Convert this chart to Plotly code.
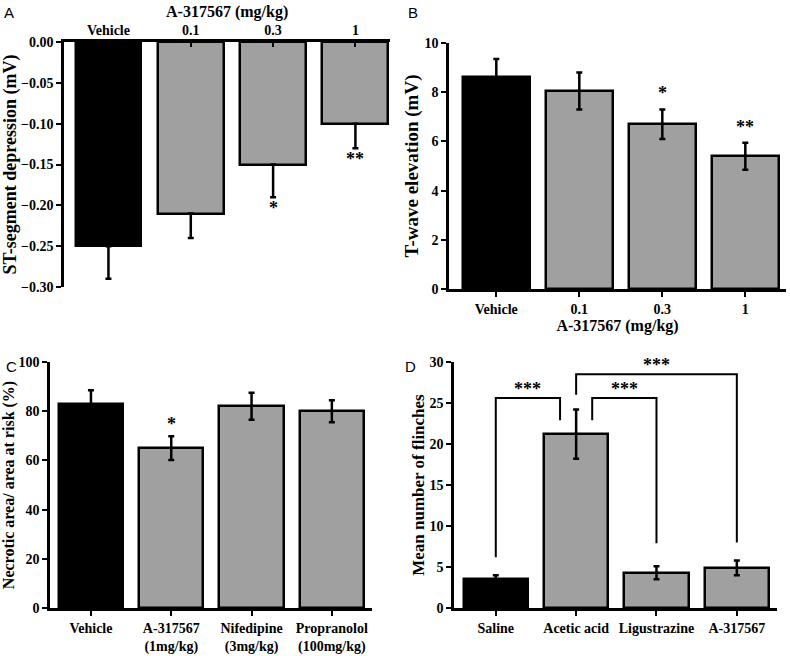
import plotly.graph_objects as go

# ---------------- data ----------------
a_cats = ["Vehicle", "0.1", "0.3", "1"]
a_vals = [-0.25, -0.21, -0.15, -0.10]
a_err = [0.04, 0.03, 0.04, 0.03]
a_stars = ["", "", "*", "**"]
a_star_y = [None, None, -0.203, -0.143]

b_cats = ["Vehicle", "0.1", "0.3", "1"]
b_vals = [8.6, 8.05, 6.7, 5.4]
b_err = [0.75, 0.75, 0.6, 0.55]
b_stars = ["", "", "*", "**"]
b_star_y = [None, None, 7.95, 6.6]

c_cats = ["Vehicle", "A-317567<br>(1mg/kg)", "Nifedipine<br>(3mg/kg)", "Propranolol<br>(100mg/kg)"]
c_vals = [83, 65, 82, 80]
c_err = [5.5, 4.8, 5.5, 4.5]
c_stars = ["", "*", "", ""]
c_star_y = [None, 75.0, None, None]

d_cats = ["Saline", "Acetic acid", "Ligustrazine", "A-317567"]
d_vals = [3.5, 21.2, 4.3, 4.9]
d_err = [0.5, 3.0, 0.8, 0.9]
# brackets: left x, right x, left-leg bottom, top, right-leg bottom, star label, star y
d_br_x0 = [0.0, 1.2, 1.0]
d_br_x1 = [0.8, 2.0, 3.0]
d_br_yl = [6.2, 22.9, 26.0]
d_br_top = [25.6, 25.6, 28.5]
d_br_yr = [22.9, 7.9, 8.0]
d_br_lbl = ["***", "***", "***"]
d_br_star_y = [26.7, 26.7, 29.6]

colors = ["black", "#a0a0a0", "#a0a0a0", "#a0a0a0"]
SERIF = "Liberation Serif"
W, H = 790, 656


def dom_x(p0, p1):
    return [p0 / W, p1 / W]


def dom_y(p_top, p_bot):
    return [1 - p_bot / H, 1 - p_top / H]


fig = go.Figure()


def add_bars(cats, vals, err, xa, ya, one_sided=False, width=0.8):
    if one_sided:
        ey = dict(type="data", symmetric=False, array=[0] * len(err), arrayminus=err,
                  color="black", thickness=2.5, width=3)
    else:
        ey = dict(type="data", array=err, color="black", thickness=2.5, width=3)
    fig.add_trace(go.Bar(x=cats, y=vals, xaxis=xa, yaxis=ya, width=width,
                         marker=dict(color=colors, line=dict(color="black", width=2.5)),
                         error_y=ey, showlegend=False, hoverinfo="skip"))


add_bars(a_cats, a_vals, a_err, "x", "y", one_sided=True)
add_bars(b_cats, b_vals, b_err, "x2", "y2")
add_bars(c_cats, c_vals, c_err, "x3", "y3")
add_bars(d_cats, d_vals, d_err, "x4", "y4")

tickfont = dict(family=SERIF, size=14, color="black", weight="bold")
xtitlefont = dict(family=SERIF, size=16, color="black", weight="bold")


def ytf(size):
    return dict(family=SERIF, size=size, color="black", weight="bold")


def xax(domain, rng, anchor, side="bottom", ticks="outside", title=None, standoff=None,
        labelstandoff=0):
    d = dict(domain=domain, range=rng, anchor=anchor, side=side, showline=True,
             linecolor="black", linewidth=2.5, ticks=ticks, ticklen=5, tickwidth=2,
             tickcolor="black", tickfont=tickfont, showgrid=False, zeroline=False,
             fixedrange=True, automargin=False, ticklabelstandoff=labelstandoff)
    if title:
        d["title"] = dict(text=title, font=xtitlefont, standoff=standoff)
    return d


def yax(domain, rng, anchor, dtick, tickformat, title, size, standoff):
    return dict(domain=domain, range=rng, anchor=anchor, showline=True, linecolor="black",
                linewidth=2.5, ticks="outside", ticklen=5, tickwidth=2, tickcolor="black",
                tickfont=tickfont, showgrid=False, zeroline=False, dtick=dtick,
                tickformat=tickformat, tick0=0, automargin=False, fixedrange=True,
                title=dict(text=title, font=ytf(size), standoff=standoff))


fig.update_layout(
    width=W, height=H, margin=dict(l=0, r=0, t=0, b=0),
    paper_bgcolor="white", plot_bgcolor="white", bargap=0,
    xaxis=xax(dom_x(64, 390), [-0.54, 3.42], "y", side="top", ticks="inside",
              labelstandoff=-1),
    yaxis=yax(dom_y(42, 287), [-0.30, 0], "x", 0.05, ".2f",
              "ST-segment depression (mV)", 18, 9),
    xaxis2=xax(dom_x(449, 786), [-0.57, 3.49], "y2", title="A-317567 (mg/kg)", standoff=4),
    yaxis2=yax(dom_y(43, 289), [0, 10], "x2", 2, "d", "T-wave elevation (mV)", 19, 1),
    xaxis3=xax(dom_x(50, 372), [-0.51, 3.5], "y3"),
    yaxis3=yax(dom_y(362, 608), [0, 100], "x3", 20, "d",
               "Necrotic area/ area at risk (%)", 16, 8),
    xaxis4=xax(dom_x(454, 777), [-0.52, 3.5], "y4"),
    yaxis4=yax(dom_y(362, 608), [0, 30], "x4", 5, "d", "Mean number of flinches", 17, 1),
)

star_font = dict(family=SERIF, size=18, color="black", weight="bold")
ann = []
# top x-axis title of panel A
ann.append(dict(x=(64 + 390) / 2 / W, y=1 - 12 / H, xref="paper", yref="paper",
                text="A-317567 (mg/kg)", showarrow=False, font=xtitlefont,
                xanchor="center", yanchor="middle"))
for cats, stars, sy, xr, yr in [(a_cats, a_stars, a_star_y, "x", "y"),
                                (b_cats, b_stars, b_star_y, "x2", "y2"),
                                (c_cats, c_stars, c_star_y, "x3", "y3")]:
    for i, s in enumerate(stars):
        if s:
            ann.append(dict(x=i, y=sy[i], xref=xr, yref=yr, text=s, showarrow=False,
                            font=star_font, yanchor="middle"))

shapes = []
for i in range(len(d_br_x0)):
    x0, x1 = d_br_x0[i], d_br_x1[i]
    path = (f"M {x0},{d_br_yl[i]} L {x0},{d_br_top[i]} L {x1},{d_br_top[i]} "
            f"L {x1},{d_br_yr[i]}")
    shapes.append(dict(type="path", path=path, xref="x4", yref="y4",
                       line=dict(color="black", width=2)))
    ann.append(dict(x=(x0 + x1) / 2, y=d_br_star_y[i], xref="x4", yref="y4",
                    text=d_br_lbl[i], showarrow=False, font=star_font, yanchor="middle"))

letter_font = dict(family="Liberation Sans", size=15, color="black")
for txt, px, py in [("A", 9, 12), ("B", 413, 12), ("C", 11, 366), ("D", 410, 366)]:
    ann.append(dict(x=px / W, y=1 - py / H, xref="paper", yref="paper",
                    text=txt, showarrow=False, font=letter_font,
                    xanchor="center", yanchor="middle"))

fig.update_layout(annotations=ann, shapes=shapes)
fig.write_html("out.html", config={"displayModeBar": False},
               post_script="document.body.style.margin='0px';")
